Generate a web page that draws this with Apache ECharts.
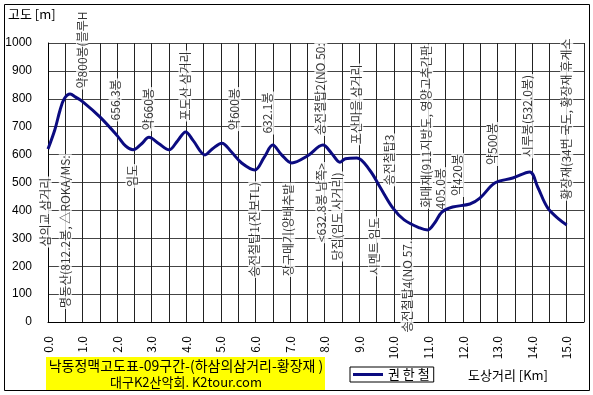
<!DOCTYPE html>
<html><head><meta charset="utf-8">
<script src="https://cdn.jsdelivr.net/npm/echarts@6/dist/echarts.min.js"></script>
<style>html,body{margin:0;padding:0;background:#fff}#c{width:593px;height:395px}</style>
</head><body><div id="c"></div>
<script>
// Profile data (distance km, elevation m)
const kmData = [0.0, 0.2, 0.35, 0.47, 0.64, 0.8, 1.0, 1.5, 2.0, 2.25, 2.46, 2.7, 2.92, 3.2, 3.5, 3.75, 3.98, 4.2, 4.54, 4.75, 5.03, 5.3, 5.6, 5.98, 6.25, 6.5, 6.75, 7.05, 7.5, 7.95, 8.2, 8.44, 8.6, 8.93, 9.3, 9.6, 9.97, 10.3, 10.75, 10.98, 11.18, 11.39, 11.7, 12.2, 12.49, 12.92, 13.44, 13.93, 14.16, 14.45, 14.8, 15.0];
const elevData = [620, 690, 760, 800, 817, 806, 790, 735, 668, 630, 617, 638, 662, 640, 617, 650, 681, 650, 599, 620, 641, 610, 570, 545, 590, 634, 600, 570, 595, 634, 605, 573, 585, 588, 545, 484, 409, 366, 337, 330, 355, 394, 412, 423, 444, 498, 516, 538, 484, 409, 366, 348];

// Waypoint annotations (text, km, elevation of text centre)
const annoText = ["삼의교 삼거리", "명동산(812.2봉, △ROKA/MS:", "약800봉(블루H", "656.3봉", "임도", "약660봉", "포도산 삼거리", "약600봉", "632.1봉", "송전철탑2(NO 50:", "포산마을 삼거리", "송전철탑3", "화매재(911지방도, 영양고추간판", "405.0봉", "약420봉", "약500봉", "시루봉(532.0봉)", "황장재(34번 국도, 황장재 휴게소", "송전철탑1(진보TL)", "장구메기(양배추밭", "<632.8봉 남쪽>", "당집(임도 사거리)", "시멘트 임도", "송전철탑4(NO 57."];
const annoKm = [-0.08, 0.5, 1.0, 1.94, 2.43, 2.89, 3.96, 5.4, 6.36, 7.89, 8.93, 9.88, 10.95, 11.36, 11.85, 12.86, 13.87, 15.0, 5.98, 6.96, 7.92, 8.38, 9.45, 10.38];
const annoElev = [394, 324, 975, 796, 523, 763, 846, 763, 749, 835, 780, 581, 701, 478, 527, 638, 738, 727, 331, 330, 428, 378, 271, 127];

const seriesName = "권 한 철";
const yAxisTitle = "고도 [m]";
const xAxisTitle = "도상거리 [Km]";
const titleLine1 = "낙동정맥고도표-09구간-(하삼의삼거리-황장재 )";
const titleLine2 = "대구K2산악회. K2tour.com";

const FONT = "'Noto Sans CJK KR', 'Liberation Sans', sans-serif";
const chart = echarts.init(document.getElementById('c'), null, {renderer: 'canvas'});
const annoData = annoText.map((t, i) => [annoKm[i], annoElev[i], t]);

chart.setOption({
  animation: false,
  backgroundColor: '#fff',
  textStyle: {fontFamily: FONT},
  grid: {left: 48, right: 9, top: 43, bottom: 73},
  xAxis: {
    type: 'value', min: 0, max: 15.5, interval: 0.5,
    axisLine: {show: true, lineStyle: {color: '#000', width: 1}},
    axisTick: {show: false},
    splitLine: {show: true, lineStyle: {color: '#222', width: 1}},
    axisLabel: {
      rotate: 90, margin: 14, fontSize: 12, color: '#000', fontFamily: FONT,
      showMaxLabel: true,
      formatter: v => (Math.abs(v - Math.round(v)) < 1e-6 ? v.toFixed(1) : '')
    }
  },
  yAxis: {
    type: 'value', min: 0, max: 1000, interval: 100,
    axisLine: {show: true, lineStyle: {color: '#000', width: 1}},
    axisTick: {show: false},
    splitLine: {show: true, lineStyle: {color: '#444', width: 1}},
    axisLabel: {margin: 16, fontSize: 12, color: '#000', fontFamily: "'Liberation Sans', sans-serif",
      formatter: v => String(v)}
  },
  legend: {
    left: 350, top: 367, orient: 'horizontal',
    data: [{name: seriesName, icon: 'rect'}],
    itemWidth: 30, itemHeight: 3, itemGap: 2,
    padding: [1, 4, 1, 3],
    borderColor: '#000', borderWidth: 1, backgroundColor: '#fff',
    textStyle: {fontSize: 13, color: '#000', fontFamily: FONT, padding: [0, 0, 0, 0]}
  },
  series: [
    {
      type: 'scatter', name: 'anno', z: 2, clip: false, silent: true,
      symbolSize: 0,
      data: annoData,
      label: {
        show: true, position: 'inside', rotate: 90,
        formatter: p => p.data[2],
        fontSize: 12, color: '#000', fontFamily: FONT,
        backgroundColor: '#fff', padding: [0, 1, 0, 1], lineHeight: 13
      }
    },
    {
      type: 'line', name: seriesName, z: 5,
      data: kmData.map((k, i) => [k, elevData[i]]),
      smooth: 0.35, symbol: 'none',
      lineStyle: {color: '#0b0b80', width: 3},
      itemStyle: {color: '#0b0b80'}
    }
  ],
  graphic: [
    {type: 'rect', z: 100, shape: {x: 4.5, y: 4.5, width: 585, height: 386}, style: {fill: 'none', stroke: '#000', lineWidth: 1}},
    {type: 'text', z: 100, left: 8, top: 8, style: {text: yAxisTitle, fontSize: 13, fill: '#000', fontFamily: FONT}},
    {type: 'rect', z: 100, shape: {x: 46, y: 357, width: 279, height: 33}, style: {fill: '#ffff00', stroke: 'none'}},
    {type: 'text', z: 101, x: 186, y: 366, style: {text: titleLine1, fontSize: 14, fill: '#000', fontFamily: FONT, align: 'center', verticalAlign: 'middle'}},
    {type: 'text', z: 101, x: 186, y: 382, style: {text: titleLine2, fontSize: 13, fill: '#000', fontFamily: FONT, align: 'center', verticalAlign: 'middle'}},
    {type: 'text', z: 100, x: 468, y: 375, style: {text: xAxisTitle, fontSize: 13, fill: '#000', fontFamily: FONT, align: 'left', verticalAlign: 'middle'}}
  ]
});
</script>
</body></html>
